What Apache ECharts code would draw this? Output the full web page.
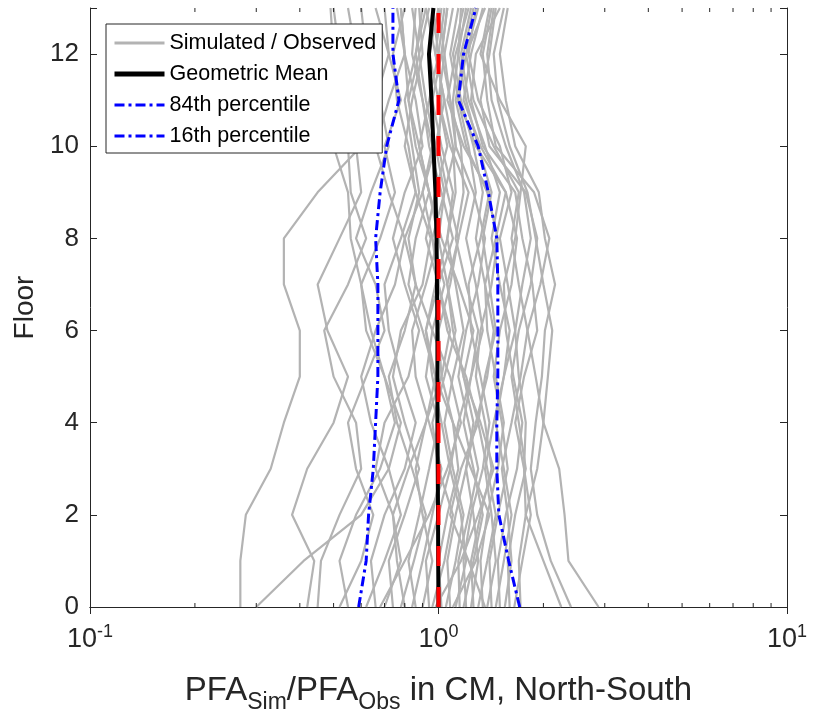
<!DOCTYPE html>
<html>
<head>
<meta charset="utf-8">
<script src="https://cdn.jsdelivr.net/npm/echarts@6/dist/echarts.min.js"></script>
<style>html,body{margin:0;padding:0;background:#fff}#chart{width:813px;height:718px}</style>
</head>
<body>
<div id="chart"></div>
<script>
// ---- data ----
const floors = [0,1,2,3,4,5,6,7,8,9,10,11,12,13];

// PFA_sim / PFA_obs for each record, floors 0..13
const simulated = [
  [0.27,0.27,0.28,0.33,0.36,0.40,0.40,0.36,0.36,0.45,0.60,0.66,0.72,0.70],
  [0.30,0.41,0.60,0.72,0.78,0.70,0.64,0.60,0.56,0.55,0.50,0.55,0.52,0.50],
  [0.42,0.44,0.38,0.42,0.50,0.55,0.48,0.45,0.52,0.60,0.58,0.52,0.50,0.49],
  [0.45,0.46,0.52,0.60,0.58,0.50,0.47,0.55,0.62,0.56,0.55,0.62,0.58,0.55],
  [0.52,0.60,0.65,0.58,0.55,0.62,0.70,0.66,0.58,0.64,0.72,0.68,0.62,0.60],
  [0.55,0.52,0.58,0.68,0.75,0.70,0.62,0.60,0.68,0.75,0.70,0.78,0.72,0.66],
  [0.62,0.70,0.78,0.72,0.64,0.60,0.66,0.75,0.80,0.72,0.66,0.72,0.80,0.78],
  [0.66,0.64,0.70,0.80,0.86,0.78,0.72,0.70,0.78,0.86,0.82,0.76,0.74,0.80],
  [0.70,0.78,0.74,0.66,0.70,0.82,0.88,0.80,0.74,0.80,0.90,0.86,0.80,0.76],
  [0.74,0.72,0.80,0.88,0.80,0.74,0.78,0.90,0.95,0.86,0.80,0.84,0.90,0.88],
  [0.78,0.85,0.92,0.84,0.76,0.72,0.80,0.86,0.80,0.90,0.96,0.90,0.84,0.86],
  [0.80,0.76,0.74,0.82,0.92,0.98,0.90,0.82,0.86,0.94,0.88,0.82,0.88,0.94],
  [0.84,0.90,0.96,1.02,0.94,0.86,0.84,0.92,1.00,0.94,0.88,0.94,1.00,0.96],
  [0.86,0.82,0.88,0.94,1.00,0.92,0.96,1.04,0.96,0.90,0.98,1.04,0.98,0.92],
  [0.90,0.96,0.90,0.86,0.92,1.02,1.08,1.00,0.92,0.98,1.06,1.00,0.94,1.00],
  [0.94,0.92,1.00,1.08,1.02,0.96,0.92,0.98,1.06,1.10,1.02,0.96,1.02,1.06],
  [0.96,1.04,1.10,1.00,0.96,1.04,1.12,1.06,1.00,1.04,1.12,1.08,1.04,1.00],
  [1.02,1.00,1.06,1.14,1.10,1.02,1.00,1.08,1.14,1.06,1.00,1.02,1.00,1.04],
  [1.05,1.12,1.18,1.10,1.04,1.10,1.18,1.12,1.06,1.12,1.10,1.04,0.98,1.02],
  [1.08,1.06,1.12,1.20,1.26,1.18,1.10,1.06,1.14,1.22,1.08,1.00,1.04,1.10],
  [1.12,1.20,1.16,1.08,1.14,1.24,1.30,1.20,1.12,1.18,1.16,1.08,1.02,1.06],
  [1.15,1.14,1.22,1.30,1.22,1.14,1.20,1.30,1.36,1.26,1.12,1.10,1.14,1.16],
  [1.18,1.26,1.34,1.26,1.18,1.24,1.34,1.28,1.20,1.28,1.22,1.14,1.08,1.14],
  [1.20,1.18,1.24,1.34,1.40,1.32,1.24,1.22,1.32,1.40,1.18,1.06,1.12,1.22],
  [1.24,1.30,1.26,1.20,1.28,1.38,1.44,1.36,1.28,1.34,1.26,1.16,1.10,1.18],
  [1.26,1.24,1.32,1.42,1.36,1.28,1.32,1.42,1.48,1.38,1.20,1.12,1.18,1.26],
  [1.30,1.38,1.46,1.38,1.30,1.36,1.46,1.40,1.34,1.42,1.30,1.20,1.14,1.20],
  [1.34,1.32,1.38,1.48,1.54,1.46,1.38,1.36,1.46,1.56,1.28,1.14,1.20,1.30],
  [1.38,1.46,1.42,1.36,1.44,1.54,1.60,1.50,1.42,1.50,1.36,1.22,1.16,1.24],
  [1.42,1.40,1.48,1.58,1.52,1.44,1.50,1.62,1.68,1.56,1.32,1.18,1.24,1.34],
  [1.46,1.54,1.62,1.54,1.46,1.54,1.66,1.58,1.50,1.62,1.50,1.30,1.22,1.28],
  [1.50,1.48,1.56,1.68,1.74,1.64,1.56,1.54,1.66,1.72,1.78,1.50,1.32,1.40],
  [1.55,1.62,1.58,1.52,1.62,1.72,1.80,1.70,1.62,1.70,1.44,1.26,1.20,1.36],
  [1.60,1.58,1.66,1.78,1.70,1.62,1.70,1.84,1.92,1.78,1.40,1.32,1.40,1.46],
  [1.65,1.74,1.84,1.76,1.66,1.76,1.92,1.86,1.74,1.66,1.34,1.24,1.28,1.50],
  [1.72,1.70,1.78,1.92,2.00,1.90,1.80,1.96,2.08,1.88,1.46,1.38,1.34,1.42],
  [2.25,2.00,1.78,1.76,1.78,1.70,1.66,1.74,1.84,1.76,1.56,1.42,1.38,1.44],
  [2.88,2.36,2.30,2.22,2.00,2.06,2.12,2.00,1.90,1.80,1.60,1.48,1.44,1.54],
  [2.40,2.10,1.92,1.84,1.90,1.98,2.02,2.16,2.02,1.94,1.66,1.56,1.50,1.58],
  [1.10,1.28,1.40,1.24,1.10,0.98,0.92,1.00,1.10,1.02,0.94,0.90,0.86,0.92],
  [1.36,1.22,1.08,1.16,1.30,1.20,1.06,1.00,0.96,1.04,0.98,0.92,0.88,0.84],
  [0.98,1.16,1.30,1.44,1.32,1.18,1.26,1.14,1.02,0.94,0.86,0.82,0.80,0.78],
  [0.68,0.80,0.94,1.06,1.16,1.08,0.96,0.86,0.82,0.88,0.84,0.80,0.86,0.90]
];

const geoMean = [1.000,0.998,0.997,0.995,0.993,0.993,0.993,0.990,0.987,0.980,0.967,0.955,0.939,0.967];
const p84 = [1.71,1.59,1.49,1.47,1.47,1.48,1.48,1.48,1.47,1.39,1.30,1.14,1.18,1.28];
const p16 = [0.59,0.62,0.63,0.65,0.66,0.67,0.67,0.67,0.66,0.68,0.71,0.77,0.74,0.74];

const referenceRatio = [1, 1];
const referenceFloors = [0, 13];

const minorTickValues = [0.2,0.3,0.4,0.5,0.6,0.7,0.8,0.9,2,3,4,5,6,7,8,9];

// ---- chart ----
const FONT = 'Liberation Sans, Arial, Helvetica, sans-serif';
const AX = '#262626';
const toPts = arr => arr.map((v, k) => [v, floors[k]]);

const series = [];
simulated.forEach(rec => {
  series.push({
    name: 'Simulated / Observed', type: 'line', symbol: 'none', silent: true,
    data: toPts(rec), z: 2,
    lineStyle: { color: '#b3b3b3', width: 2.2 }, itemStyle: { color: '#b3b3b3' }
  });
});
series.push({
  name: 'Geometric Mean', type: 'line', symbol: 'none', silent: true, z: 3,
  data: toPts(geoMean),
  lineStyle: { color: '#000', width: 4 }, itemStyle: { color: '#000' }
});
series.push({
  name: '84th percentile', type: 'line', symbol: 'none', silent: true, z: 3,
  data: toPts(p84),
  lineStyle: { color: '#0000ff', width: 3, type: [10, 4, 3, 4] }, itemStyle: { color: '#0000ff' }
});
series.push({
  name: '16th percentile', type: 'line', symbol: 'none', silent: true, z: 3,
  data: toPts(p16),
  lineStyle: { color: '#0000ff', width: 3, type: [10, 4, 3, 4] }, itemStyle: { color: '#0000ff' }
});
series.push({
  name: 'Reference', type: 'line', symbol: 'none', silent: true, z: 4,
  data: referenceRatio.map((v, k) => [v, referenceFloors[k]]),
  lineStyle: { color: '#ff0000', width: 4, type: [20, 21], cap: 'butt' }, itemStyle: { color: '#ff0000' }
});
series.push({
  name: 'minorTicks', type: 'custom', silent: true, z: 5, clip: false,
  data: minorTickValues.map(v => [v, 0]),
  renderItem: (params, api) => {
    const v = api.value(0);
    const b = api.coord([v, 0]);
    const t = api.coord([v, 13]);
    return {
      type: 'group', children: [
        { type: 'line', shape: { x1: b[0], y1: b[1], x2: b[0], y2: b[1] - 4 }, style: { stroke: AX, lineWidth: 1 } },
        { type: 'line', shape: { x1: t[0], y1: t[1], x2: t[0], y2: t[1] + 4 }, style: { stroke: AX, lineWidth: 1 } }
      ]
    };
  }
});

const logLabel = v => '10{sup|' + Math.round(Math.log10(v)) + '}';
const hiddenSymbol = { color: 'rgba(0,0,0,0)', borderWidth: 0, opacity: 0 };

const option = {
  animation: false,
  backgroundColor: '#fff',
  grid: { left: 90, right: 26, top: 8, bottom: 111, containLabel: false, outerBoundsMode: 'none' },
  legend: {
    data: [
      { name: 'Simulated / Observed', itemStyle: hiddenSymbol, lineStyle: { color: '#b3b3b3', width: 3 } },
      { name: 'Geometric Mean', itemStyle: hiddenSymbol, lineStyle: { color: '#000', width: 5 } },
      { name: '84th percentile', itemStyle: hiddenSymbol, lineStyle: { color: '#0000ff', width: 3, type: [10, 4, 3, 4] } },
      { name: '16th percentile', itemStyle: hiddenSymbol, lineStyle: { color: '#0000ff', width: 3, type: [10, 4, 3, 4] } }
    ],
    orient: 'vertical', left: 106, top: 24,
    padding: [8, 6, 6, 6], itemGap: 9, itemWidth: 50, itemHeight: 14,
    backgroundColor: '#fff', borderColor: AX, borderWidth: 1, borderRadius: 0,
    selectedMode: false,
    itemStyle: hiddenSymbol,
    textStyle: { fontFamily: FONT, fontSize: 21.5, color: '#000', lineHeight: 20 }
  },
  xAxis: [
    {
      type: 'log', logBase: 10, min: 0.1, max: 10, position: 'bottom',
      axisLine: { lineStyle: { color: AX, width: 1 } },
      axisTick: { inside: true, length: 7, lineStyle: { color: AX } },
      splitLine: { show: false },
      axisLabel: {
        formatter: logLabel, margin: 16, color: AX, fontFamily: FONT, fontSize: 27, lineHeight: 34,
        rich: { sup: { fontSize: 18, fontFamily: FONT, color: AX, verticalAlign: 'top', lineHeight: 14 } }
      },
      name: 'PFA{sub|Sim}/PFA{sub|Obs} in CM, North-South',
      nameLocation: 'middle', nameGap: 61,
      nameTextStyle: {
        fontFamily: FONT, fontSize: 33, color: AX, lineHeight: 46,
        rich: { sub: { fontFamily: FONT, fontSize: 23, color: AX, verticalAlign: 'bottom', lineHeight: 16 } }
      }
    },
    {
      type: 'log', logBase: 10, min: 0.1, max: 10, position: 'top',
      axisLine: { lineStyle: { color: AX, width: 1 } },
      axisTick: { inside: true, length: 7, lineStyle: { color: AX } },
      splitLine: { show: false }, axisLabel: { show: false }
    }
  ],
  yAxis: [
    {
      type: 'value', min: 0, max: 13, interval: 2, position: 'left',
      axisLine: { show: true, lineStyle: { color: AX, width: 1 } },
      axisTick: { inside: true, length: 7, lineStyle: { color: AX } },
      splitLine: { show: false },
      axisLabel: {
        formatter: v => (v % 2 === 0 ? String(v) : ''), margin: 11,
        color: AX, fontFamily: FONT, fontSize: 26
      },
      name: 'Floor', nameLocation: 'middle', nameGap: 48,
      nameTextStyle: { fontFamily: FONT, fontSize: 28, color: AX }
    },
    {
      type: 'value', min: 0, max: 13, interval: 2, position: 'right',
      axisLine: { show: true, lineStyle: { color: AX, width: 1 } },
      axisTick: { inside: true, length: 7, lineStyle: { color: AX } },
      splitLine: { show: false }, axisLabel: { show: false }
    }
  ],
  series: series
};

const chart = echarts.init(document.getElementById('chart'), null, { renderer: 'canvas' });
chart.setOption(option);
</script>
</body>
</html>
